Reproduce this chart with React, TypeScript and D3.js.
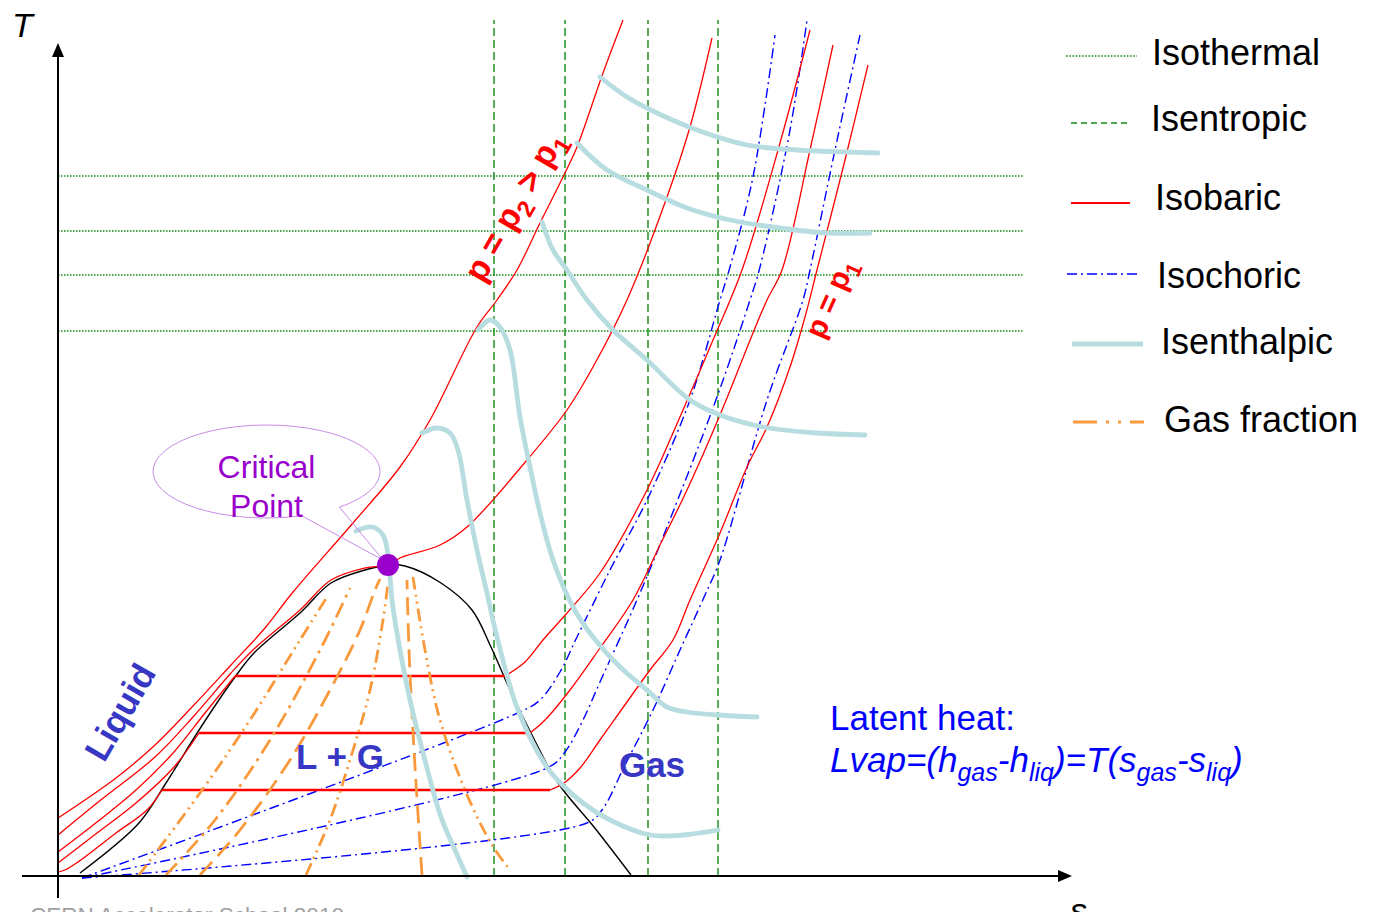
import * as d3 from "d3";

type Pt = [number, number];

// schematic T-s diagram, s and T in arbitrary units
const isothermT = [70.0, 64.5, 60.1, 54.5];
const isothermSpan = [0, 96.6];
const isentropeS = [43.6, 50.7, 59.0, 66.0];
const isentropeSpan = [0, 85.6];

const criticalPoint: Pt = [33.0, 31.1];

const domeLiquid: Pt[] = [[2.2, 0.3], [8.1, 5.3], [10.8, 9.3], [14.3, 14.9], [17.7, 19.9], [19.6, 22.3], [24.2, 26.3], [27.3, 29.3], [30.7, 30.6], [33.0, 31.1]];
const domeVapour: Pt[] = [[33.0, 31.1], [34.7, 31.0], [38.3, 29.3], [41.4, 26.6], [43.3, 22.9], [45.2, 18.6], [47.5, 13.9], [50.0, 9.3], [53.6, 4.9], [57.3, 0.1]];

// isobars
const isobarP2: Pt[] = [[0, 5.8], [5.8, 9.8], [9.7, 13.1], [13.5, 17.0], [17.3, 21.1], [20.7, 24.8], [23.5, 28.4], [29.5, 35.3], [34.2, 40.9], [37.2, 45.6], [41.9, 54.9], [43.9, 57.6], [45.9, 60.6], [48.2, 65.3], [50.5, 69.9], [51.9, 72.9], [54.5, 80.3], [56.5, 85.6]];
const isobarCritical: Pt[] = [[0, 4.1], [3.9, 7.3], [9.7, 11.9], [13.5, 15.9], [17.3, 20.3], [19.6, 22.7], [24.2, 26.6], [27.3, 29.6], [30.7, 30.8], [33.0, 31.1], [34.2, 31.8], [38.2, 33.1], [40.9, 34.9], [46.9, 41.6], [50.9, 46.6], [53.5, 50.9], [56.9, 57.6], [60.9, 67.9], [63.2, 74.9], [65.4, 83.8]];
const isobar1Liquid: Pt[] = [[0, 2.4], [3.9, 5.4], [7.8, 8.6], [11.6, 12.4], [14.7, 16.3], [17.7, 20.0]];
const isobar1Vapour: Pt[] = [[44.7, 20.0], [46.7, 21.4], [48.5, 23.6], [50.9, 26.3], [54.2, 30.3], [58.9, 38.6], [62.5, 46.6], [65.5, 53.6], [68.4, 60.6], [72.2, 73.3], [75.2, 84.6]];
const isobar2Liquid: Pt[] = [[0, 1.3], [3.9, 4.3], [7.8, 7.3], [11.6, 10.9], [14.1, 14.3]];
const isobar2Vapour: Pt[] = [[47.2, 14.3], [48.7, 15.6], [51.2, 18.6], [54.2, 22.8], [57.5, 27.6], [60.2, 33.1], [62.9, 38.6], [66.2, 46.1], [69.5, 54.3], [70.9, 57.6], [72.4, 60.6], [75.2, 72.6], [77.5, 83.1]];
const isobar3Liquid: Pt[] = [[0, 0.4], [0.7, 0.6], [2.0, 1.4], [5.8, 4.3], [8.9, 6.6], [10.4, 8.6]];
const isobar3Vapour: Pt[] = [[49.2, 8.6], [50.6, 9.3], [52.2, 10.8], [54.2, 13.6], [59.2, 20.6], [61.5, 23.6], [63.2, 27.6], [66.2, 34.3], [68.9, 40.9], [70.9, 44.9], [73.2, 50.9], [74.7, 55.9], [75.9, 60.6], [78.7, 71.6], [81.0, 81.1]];

// isochores
const isochore1: Pt[] = [[2.4, -0.2], [46.4, 16.5], [48.2, 17.6], [50.2, 20.4], [51.9, 23.9], [55.2, 30.6], [58.9, 37.6], [63.2, 47.6], [66.2, 57.6], [67.2, 60.9], [69.5, 69.9], [71.7, 84.1]];
const isochore2: Pt[] = [[2.4, -0.2], [49.1, 10.9], [50.7, 12.4], [52.4, 15.4], [54.2, 19.4], [57.9, 27.6], [60.9, 34.9], [65.9, 47.9], [69.2, 57.6], [70.2, 60.9], [73.2, 74.6], [74.9, 85.6]];
const isochore3: Pt[] = [[2.4, -0.2], [52.9, 5.3], [54.4, 6.6], [56.7, 11.1], [59.5, 16.6], [62.2, 22.6], [64.7, 28.1], [66.2, 31.6], [70.9, 47.6], [74.5, 57.6], [75.2, 60.6], [77.7, 72.6], [80.2, 84.1]];

// isenthalps
const isenthalp1: Pt[] = [[29.8, 34.5], [31.4, 34.9], [32.5, 34.1], [33.0, 32.1], [33.4, 27.6], [34.2, 22.6], [35.2, 17.6], [36.3, 13.1], [38.3, 5.9], [39.7, 2.6], [40.9, -0.1]];
const isenthalp2: Pt[] = [[36.4, 44.3], [37.9, 44.8], [39.2, 44.3], [40.0, 42.6], [40.9, 37.6], [41.9, 32.6], [42.9, 28.3], [43.9, 23.9], [46.0, 16.6], [49.1, 10.6], [52.5, 7.3], [55.2, 5.6], [59.2, 4.1], [62.5, 4.1], [66.0, 4.6]];
const isenthalp3: Pt[] = [[42.0, 54.6], [43.2, 55.6], [44.2, 54.9], [45.2, 52.6], [46.2, 45.9], [47.2, 40.9], [48.2, 36.3], [49.5, 31.6], [51.5, 26.9], [53.5, 23.9], [56.2, 20.9], [58.9, 18.6], [60.9, 16.9], [62.9, 16.4], [66.0, 16.1], [69.9, 15.9]];
const isenthalp4: Pt[] = [[48.4, 65.4], [49.5, 62.6], [50.9, 60.6], [52.9, 57.6], [55.5, 54.6], [58.9, 51.6], [63.2, 47.6], [66.2, 46.1], [70.5, 44.9], [75.9, 44.3], [80.7, 44.1]];
const isenthalp5: Pt[] = [[51.9, 73.3], [54.9, 70.6], [58.9, 68.6], [62.9, 66.8], [67.2, 65.6], [72.2, 64.8], [76.9, 64.3], [81.2, 64.3]];
const isenthalp6: Pt[] = [[54.2, 79.9], [56.9, 77.9], [59.9, 76.3], [63.9, 74.6], [68.9, 73.1], [73.9, 72.6], [78.9, 72.4], [82.0, 72.3]];

// gas fraction lines inside the dome
const gasFraction1: Pt[] = [[8.1, 0.1], [14.2, 8.3], [19.2, 15.6], [24.2, 23.6], [26.9, 27.9]];
const gasFraction2: Pt[] = [[10.8, 0.1], [15.7, 5.6], [21.2, 13.6], [26.2, 22.6], [29.2, 28.8]];
const gasFraction3: Pt[] = [[14.2, 0.1], [18.2, 4.6], [23.2, 11.6], [27.2, 18.6], [30.2, 24.6], [31.7, 28.6], [32.2, 29.7]];
const gasFraction4: Pt[] = [[24.8, 0.1], [27.2, 5.6], [29.2, 11.6], [31.2, 18.6], [32.5, 25.6], [33.0, 29.3]];
const gasFraction5: Pt[] = [[36.4, 0.1], [35.6, 12.6], [35.1, 22.6], [34.9, 29.6]];
const gasFraction6: Pt[] = [[35.5, 29.9], [36.7, 22.6], [38.2, 15.6], [40.7, 8.6], [43.4, 3.1], [45.2, 0.6]];

const legendLabels = ["Isothermal", "Isentropic", "Isobaric", "Isochoric", "Isenthalpic", "Gas fraction"];

const W = 1374;
const H = 912;
const FONT = "'Liberation Sans', Arial, Helvetica, sans-serif";
const RED = "#ff0000";
const BLUE = "#0000ff";
const GREEN = "#128a12";
const LIGHTBLUE = "#b7dde0";
const ORANGE = "#f89a3c";
const LABEL = "#3737c4";
const PURPLE = "#9900cc";

const x = d3.scaleLinear().domain([0, 100]).range([58, 1058]);
const y = d3.scaleLinear().domain([0, 100]).range([876, -124]);

const smooth = d3.line<Pt>().x(d => x(d[0])).y(d => y(d[1])).curve(d3.curveCatmullRom.alpha(0.5));
const straight = d3.line<Pt>().x(d => x(d[0])).y(d => y(d[1]));

const dashDotDot = "13,5,2,5,2,5";
const gasStyles = [dashDotDot, "16,6,3,6", "18,8", dashDotDot, "18,8", dashDotDot];

export default function App() {
  const p = (pts: Pt[]) => smooth(pts) ?? "";

  const subcritical: [Pt[], Pt[]][] = [
    [isobar1Liquid, isobar1Vapour],
    [isobar2Liquid, isobar2Vapour],
    [isobar3Liquid, isobar3Vapour],
  ];

  // callout bubble around "Critical Point"
  const ccx = x(20.85), ccy = y(40.45);
  const crx = x(11.35) - x(0), cry = y(0) - y(4.65);
  const ang = (deg: number): Pt => [ccx + crx * Math.cos((deg * Math.PI) / 180), ccy + cry * Math.sin((deg * Math.PI) / 180)];
  const ta = ang(50), tb = ang(72);
  const tip: Pt = [x(32.5), y(31.6)];
  const callout = `M${ta[0]},${ta[1]} A${crx},${cry} 0 1 0 ${tb[0]},${tb[1]} L${tip[0]},${tip[1]} Z`;

  const legendRows = [
    { ly: 56, x1: 1066, x2: 1137, tx: 1152, ty: 65, stroke: GREEN, width: 1.6, dash: "1.6,1.6" },
    { ly: 123, x1: 1071, x2: 1130, tx: 1151, ty: 131, stroke: GREEN, width: 1.3, dash: "6,4" },
    { ly: 203, x1: 1071, x2: 1130, tx: 1155, ty: 210, stroke: RED, width: 2, dash: undefined },
    { ly: 274, x1: 1067, x2: 1138, tx: 1157, ty: 288, stroke: BLUE, width: 1.5, dash: "10,4,2,4" },
    { ly: 344, x1: 1072, x2: 1143, tx: 1161, ty: 354, stroke: LIGHTBLUE, width: 5, dash: undefined },
    { ly: 422, x1: 1073, x2: 1144, tx: 1164, ty: 432, stroke: ORANGE, width: 3, dash: "24,9,3,9,3,9" },
  ];

  return (
    <svg
      width={W}
      height={H}
      viewBox={`0 0 ${W} ${H}`}
      style={{ position: "absolute", left: 0, top: 0, display: "block", background: "#fff" }}
      fontFamily={FONT}
    >
      {/* isotherms */}
      {isothermT.map(t => (
        <line key={`t${t}`} x1={x(isothermSpan[0])} x2={x(isothermSpan[1])} y1={y(t)} y2={y(t)}
          stroke={GREEN} strokeWidth={1.5} strokeDasharray="1.5,1.5" />
      ))}
      {/* isentropes */}
      {isentropeS.map(s => (
        <line key={`s${s}`} x1={x(s)} x2={x(s)} y1={y(isentropeSpan[0])} y2={y(isentropeSpan[1])}
          stroke={GREEN} strokeWidth={1.4} strokeDasharray="8,4" />
      ))}

      {/* saturation dome */}
      <path d={p(domeLiquid)} fill="none" stroke="#000" strokeWidth={1.4} />
      <path d={p(domeVapour)} fill="none" stroke="#000" strokeWidth={1.4} />

      {/* isochores */}
      {[isochore1, isochore2, isochore3].map((c, i) => (
        <path key={`v${i}`} d={p(c)} fill="none" stroke={BLUE} strokeWidth={1.4} strokeDasharray="10,4,2,4" />
      ))}

      {/* isobars */}
      <path d={p(isobarP2)} fill="none" stroke={RED} strokeWidth={1.3} />
      <path d={p(isobarCritical)} fill="none" stroke={RED} strokeWidth={1.3} />
      {subcritical.map(([liq, vap], i) => (
        <g key={`p${i}`}>
          <path d={p(liq)} fill="none" stroke={RED} strokeWidth={1.3} />
          <path d={straight([liq[liq.length - 1], vap[0]]) ?? ""} fill="none" stroke={RED} strokeWidth={2.5} />
          <path d={p(vap)} fill="none" stroke={RED} strokeWidth={1.3} />
        </g>
      ))}

      {/* gas fraction */}
      {[gasFraction1, gasFraction2, gasFraction3, gasFraction4, gasFraction5, gasFraction6].map((g, i) => (
        <path key={`g${i}`} d={p(g)} fill="none" stroke={ORANGE} strokeWidth={2.8} strokeDasharray={gasStyles[i]} />
      ))}

      {/* isenthalps */}
      {[isenthalp1, isenthalp2, isenthalp3, isenthalp4, isenthalp5, isenthalp6].map((h, i) => (
        <path key={`h${i}`} d={p(h)} fill="none" stroke={LIGHTBLUE} strokeWidth={4.8} strokeLinecap="round" />
      ))}

      {/* critical point callout */}
      <path d={callout} fill="none" stroke="#c98ae8" strokeWidth={1} />
      <text x={ccx} y={y(39.8)} textAnchor="middle" fontSize={32} fill={PURPLE}>Critical</text>
      <text x={ccx} y={y(35.9)} textAnchor="middle" fontSize={32} fill={PURPLE}>Point</text>
      <circle cx={x(criticalPoint[0])} cy={y(criticalPoint[1])} r={11} fill={PURPLE} />

      {/* region labels */}
      <text transform={`translate(${x(6.2)},${y(16.4)}) rotate(-60)`} textAnchor="middle" dy="0.35em"
        fontSize={35} fontWeight="bold" fill={LABEL}>Liquid</text>
      <text x={x(28.2)} y={y(11.9)} dy="0.35em" textAnchor="middle" fontSize={35} fontWeight="bold" fill={LABEL}>L + G</text>
      <text x={x(59.4)} y={y(11.1)} dy="0.35em" textAnchor="middle" fontSize={35} fontWeight="bold" fill={LABEL}>Gas</text>

      {/* pressure labels */}
      <text transform={`translate(${x(45.6)},${y(67.0)}) rotate(-60)`} textAnchor="middle" dy="0.35em"
        fontSize={34} fontWeight="bold" fill={RED}>
        p = p<tspan fontSize={24} dy={8}>2</tspan><tspan dy={-8}> &gt; p</tspan><tspan fontSize={24} dy={8}>1</tspan>
      </text>
      <text transform={`translate(${x(77.2)},${y(57.8)}) rotate(-66)`} textAnchor="middle" dy="0.35em"
        fontSize={30} fontWeight="bold" fill={RED}>
        p = p<tspan fontSize={22} dy={7}>1</tspan>
      </text>

      {/* latent heat */}
      <text x={x(77.2)} y={y(14.6)} fontSize={35} fill={BLUE}>Latent heat:</text>
      <text x={x(77.2)} y={y(10.4)} fontSize={35} fill={BLUE} fontStyle="italic">
        Lvap=(h<tspan fontSize={25} dy={9}>gas</tspan><tspan dy={-9}>-h</tspan><tspan fontSize={25} dy={9}>liq</tspan>
        <tspan dy={-9}>)=T(s</tspan><tspan fontSize={25} dy={9}>gas</tspan><tspan dy={-9}>-s</tspan>
        <tspan fontSize={25} dy={9}>liq</tspan><tspan dy={-9}>)</tspan>
      </text>

      {/* axes */}
      <line x1={x(-3.6)} x2={x(100.2)} y1={y(0)} y2={y(0)} stroke="#000" strokeWidth={2} />
      <path d={`M${x(101.4)},${y(0)} L${x(100.0)},${y(0) - 6} L${x(100.0)},${y(0) + 6} Z`} fill="#000" />
      <line x1={x(0)} x2={x(0)} y1={y(-2.2)} y2={y(82)} stroke="#000" strokeWidth={2} />
      <path d={`M${x(0)},${y(83.3)} L${x(0) - 6},${y(81.9)} L${x(0) + 6},${y(81.9)} Z`} fill="#000" />
      <text x={x(-4.6)} y={y(83.9)} fontSize={34} fontStyle="italic">T</text>
      <text x={x(101.2)} y={y(-4.6)} fontSize={34} fontStyle="italic">s</text>
      <text x={x(-2.8)} y={y(-4.7)} fontSize={22.5} fill="#a0a0a0">CERN Accelerator School 2010</text>

      {/* legend */}
      {legendRows.map((r, i) => (
        <g key={`l${i}`}>
          <line x1={r.x1} x2={r.x2} y1={r.ly} y2={r.ly} stroke={r.stroke} strokeWidth={r.width} strokeDasharray={r.dash} />
          <text x={r.tx} y={r.ty} fontSize={36} fill="#000">{legendLabels[i]}</text>
        </g>
      ))}
    </svg>
  );
}
